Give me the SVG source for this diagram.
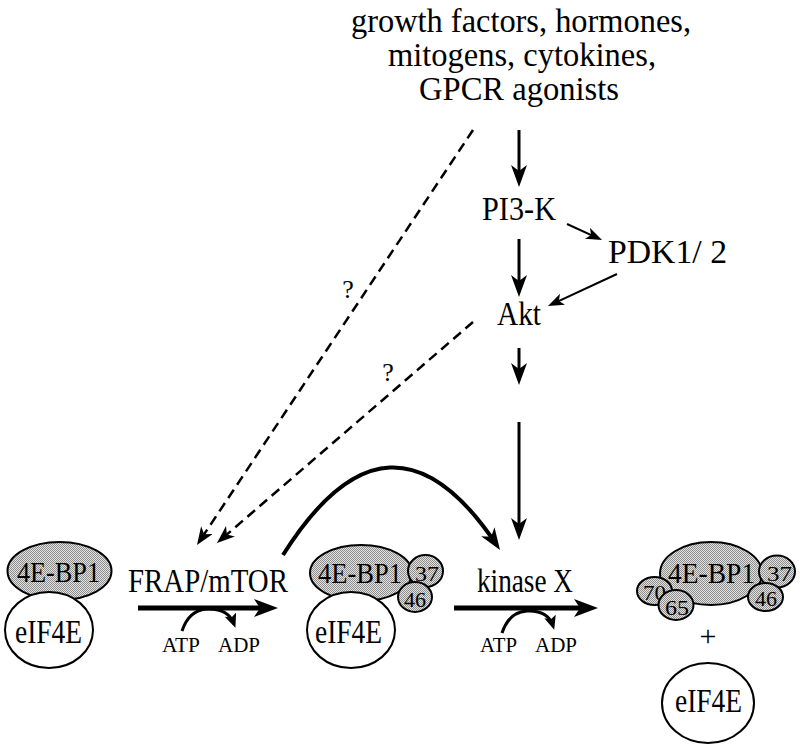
<svg xmlns="http://www.w3.org/2000/svg" width="800" height="749" viewBox="0 0 800 749">
<defs>
<pattern id="stip" width="2" height="2" patternUnits="userSpaceOnUse">
<rect width="2" height="2" fill="#e2e2e2"/>
<rect width="1" height="1" fill="#8e8e8e"/>
<rect x="1" y="1" width="1" height="1" fill="#8e8e8e"/>
</pattern>
<marker id="ah3" markerUnits="userSpaceOnUse" viewBox="0 0 22 16" markerWidth="22" markerHeight="16" refX="16" refY="8" orient="auto"><path d="M0,0 L22,8 L0,16 L6,8 z" fill="#000"/></marker>
<marker id="ah5" markerUnits="userSpaceOnUse" viewBox="0 0 24 18" markerWidth="24" markerHeight="18" refX="14" refY="9" orient="auto"><path d="M0,0 L24,9 L0,18 L6,9 z" fill="#000"/></marker>
<marker id="ahthin" markerUnits="userSpaceOnUse" viewBox="0 0 16 12" markerWidth="16" markerHeight="12" refX="12" refY="6" orient="auto"><path d="M0,0 L16,6 L0,12 L4,6 z" fill="#000"/></marker>
<marker id="ahdash" markerUnits="userSpaceOnUse" viewBox="0 0 18 14" markerWidth="18" markerHeight="14" refX="14" refY="7" orient="auto"><path d="M0,0 L18,7 L0,14 L5,7 z" fill="#000"/></marker>
<marker id="ahsmall" markerUnits="userSpaceOnUse" viewBox="0 0 14 12" markerWidth="14" markerHeight="12" refX="10" refY="6" orient="auto"><path d="M0,0 L14,6 L0,12 L3,6 z" fill="#000"/></marker>
</defs>
<style>
text{font-family:"Liberation Serif","Times New Roman",serif;fill:#000}
.big{font-size:33px}
.mid{font-size:33px}
.bp{font-size:30px}
.sm{font-size:20px}
.num{font-size:22px}
.plus{font-size:30px}
.q{font-size:26px}
.shade{fill:url(#stip);stroke:#000;stroke-width:2}
.white{fill:#fff;stroke:#000;stroke-width:2}
.c3{fill:none;stroke:#000;stroke-width:3;marker-end:url(#ah3)}
.c5{fill:none;stroke:#000;stroke-width:5;marker-end:url(#ah5)}
.cthin{fill:none;stroke:#000;stroke-width:2;marker-end:url(#ahthin)}
.cdash{fill:none;stroke:#000;stroke-width:2.5;stroke-dasharray:10 6;marker-end:url(#ahdash)}
.csmall{fill:none;stroke:#000;stroke-width:3;marker-end:url(#ahsmall)}
.ccurve{fill:none;stroke:#000;stroke-width:4;marker-end:url(#ah3)}
</style>
<rect width="800" height="749" fill="#fff"/>

<g id="stimuli">
<text class="big" x="521" y="32" text-anchor="middle" textLength="340" lengthAdjust="spacingAndGlyphs">growth factors, hormones,</text>
<text class="big" x="522" y="66" text-anchor="middle" textLength="268" lengthAdjust="spacingAndGlyphs">mitogens, cytokines,</text>
<text class="big" x="519" y="100" text-anchor="middle" textLength="200" lengthAdjust="spacingAndGlyphs">GPCR agonists</text>
</g>

<g id="pi3k"><text class="mid" x="482" y="220" textLength="74" lengthAdjust="spacingAndGlyphs">PI3-K</text></g>
<g id="pdk"><text class="mid" x="608" y="263" textLength="119" lengthAdjust="spacingAndGlyphs">PDK1/ 2</text></g>
<g id="akt"><text class="mid" x="497" y="325" textLength="44" lengthAdjust="spacingAndGlyphs">Akt</text></g>

<g id="connectors">
<path class="c3" d="M519,130 L519,181"/>
<path class="c3" d="M519,239 L519,291"/>
<path class="cthin" d="M567,224 L598.4,238.3"/>
<path class="cthin" d="M617,274 L551.6,304.3"/>
<path class="c3" d="M519,348 L519,379"/>
<path class="c3" d="M519,422 L519,534"/>
<path class="cdash" d="M473,130 L199.2,541.7"/>
<path class="cdash" d="M473,322 L220,540.4"/>
<path class="ccurve" d="M283,555 Q390,385 496.7,545"/>
<path class="c5" d="M138,608 L268,608"/>
<path class="c5" d="M454,608 L588,608"/>
<path class="csmall" d="M182,631 Q189,610 207,609 Q228,608 234,624"/>
<path class="csmall" d="M502,633 Q509,612 527,611 Q548,610 553,626"/>
<text class="q" x="348" y="298" text-anchor="middle">?</text>
<text class="q" x="388" y="381" text-anchor="middle">?</text>
</g>

<g id="complex-left">
<ellipse class="shade" cx="59.5" cy="571" rx="52" ry="29"/>
<text class="bp" x="17" y="582" textLength="83" lengthAdjust="spacingAndGlyphs">4E-BP1</text>
<ellipse class="white" cx="49" cy="630" rx="44" ry="38"/>
<text class="mid" x="15" y="643" textLength="67" lengthAdjust="spacingAndGlyphs">eIF4E</text>
</g>

<g id="frap">
<text class="mid" x="128" y="592" textLength="160" lengthAdjust="spacingAndGlyphs">FRAP/mTOR</text>
<text class="sm" x="162" y="652" textLength="38" lengthAdjust="spacingAndGlyphs">ATP</text>
<text class="sm" x="218" y="652" textLength="42" lengthAdjust="spacingAndGlyphs">ADP</text>
</g>

<g id="complex-mid">
<ellipse class="shade" cx="361" cy="573" rx="51" ry="28"/>
<text class="bp" x="318" y="583" textLength="84" lengthAdjust="spacingAndGlyphs">4E-BP1</text>
<ellipse class="shade" cx="425.5" cy="571" rx="17.5" ry="16"/>
<text class="num" x="415" y="581" textLength="24" lengthAdjust="spacingAndGlyphs">37</text>
<ellipse class="shade" cx="415" cy="597" rx="17" ry="15"/>
<text class="num" x="404" y="607" textLength="22" lengthAdjust="spacingAndGlyphs">46</text>
<ellipse class="white" cx="351" cy="630" rx="44" ry="38"/>
<text class="mid" x="315" y="643" textLength="67" lengthAdjust="spacingAndGlyphs">eIF4E</text>
</g>

<g id="kinasex">
<text class="mid" x="477" y="592" textLength="96" lengthAdjust="spacingAndGlyphs">kinase X</text>
<text class="sm" x="480" y="652" textLength="37" lengthAdjust="spacingAndGlyphs">ATP</text>
<text class="sm" x="535" y="652" textLength="42" lengthAdjust="spacingAndGlyphs">ADP</text>
</g>

<g id="complex-right">
<ellipse class="shade" cx="711" cy="573.5" rx="51" ry="31.5"/>
<text class="bp" x="668" y="583" textLength="87" lengthAdjust="spacingAndGlyphs">4E-BP1</text>
<ellipse class="shade" cx="777" cy="571.5" rx="18" ry="16"/>
<text class="num" x="767" y="581" textLength="25" lengthAdjust="spacingAndGlyphs">37</text>
<ellipse class="shade" cx="765.5" cy="597" rx="17.5" ry="14"/>
<text class="num" x="755" y="606" textLength="22" lengthAdjust="spacingAndGlyphs">46</text>
<ellipse class="shade" cx="654.5" cy="591" rx="17.5" ry="14"/>
<text class="num" x="643" y="600" textLength="23" lengthAdjust="spacingAndGlyphs">70</text>
<ellipse class="shade" cx="676" cy="605" rx="17.5" ry="15"/>
<text class="num" x="665" y="615" textLength="24" lengthAdjust="spacingAndGlyphs">65</text>
</g>

<g id="plus"><text class="plus" x="708" y="646" text-anchor="middle">+</text></g>

<g id="eif4e-free">
<ellipse class="white" cx="708" cy="703" rx="46" ry="40"/>
<text class="mid" x="675" y="712" textLength="67" lengthAdjust="spacingAndGlyphs">eIF4E</text>
</g>
</svg>
